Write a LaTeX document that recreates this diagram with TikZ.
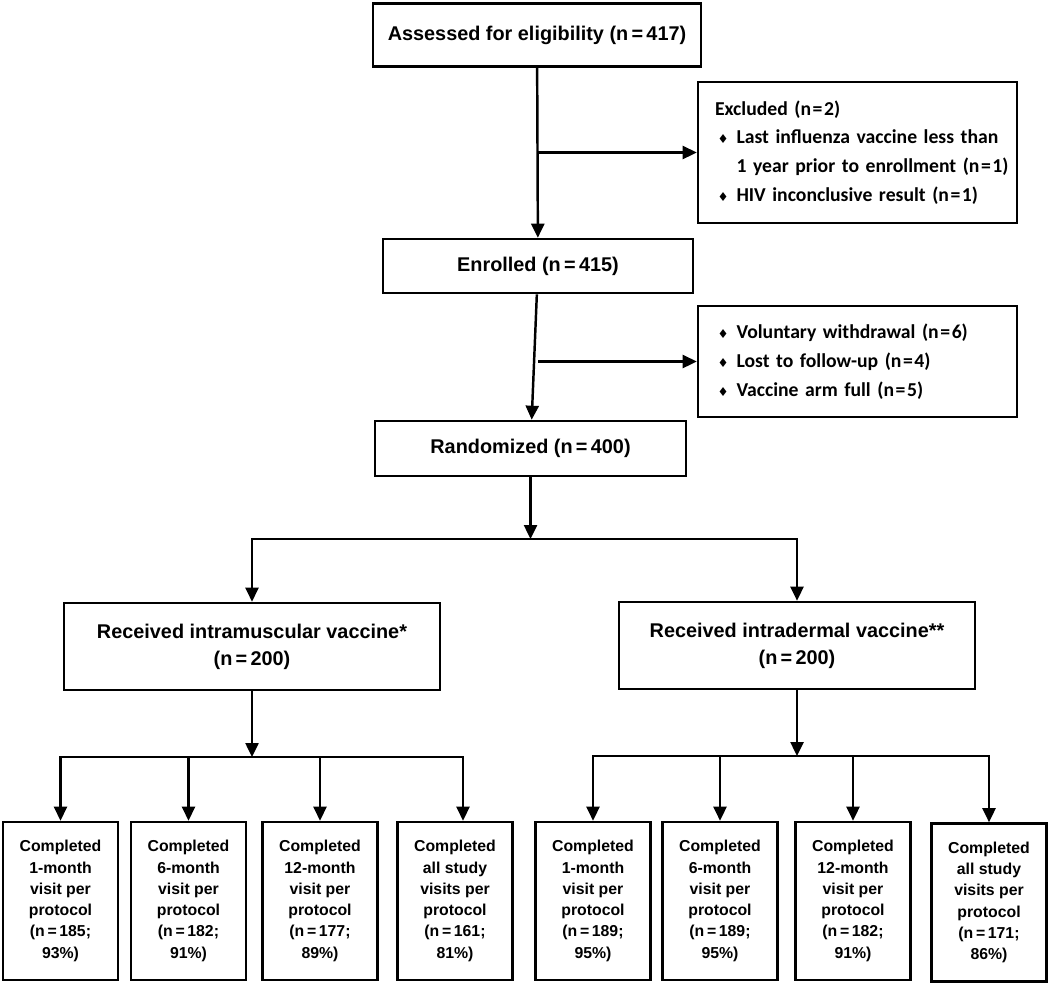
\documentclass[tikz,border=0pt]{standalone}
\usepackage{fontspec}
\setmainfont{Liberation Sans}
\newfontfamily\calfont{Carlito}
\newfontfamily\symfont{DejaVu Sans}
\usepackage{tikz}
\usetikzlibrary{arrows.meta, positioning, calc}

\newcommand{\bul}{\hspace*{0.3cm}\makebox[0.38cm][l]{\symfont\fontsize{7}{7}\selectfont ♦}}
\newcommand{\eq}{\kern0.08em=\kern0.08em}

\begin{document}
\begin{tikzpicture}[x=0.02cm, y=-0.02cm,
    stage/.style={rectangle, draw, line width=1.5pt, align=center, font=\fontsize{11.3}{15.3}\selectfont\bfseries},
    excl/.style={rectangle, draw, line width=1.5pt, text width=6.2cm, inner xsep=0.09cm, align=left, font=\fontsize{11.2}{16.4}\calfont\bfseries},
    visitbox/.style={rectangle, draw, line width=1.5pt, minimum width=2.3cm, minimum height=3.16cm, inner sep=0pt, align=center, font=\fontsize{9}{12.1}\selectfont\bfseries},
    arr/.style={line width=1.4pt, -{Triangle[length=0.28cm, width=0.26cm]}}
]
    \useasboundingbox (0,0) rectangle (1050,984);

    % enrolment
    \node[stage, minimum width=6.56cm, minimum height=1.26cm] (assessed) at (537,35) {Assessed for eligibility (n\,=\,417)};
    \node[excl, minimum height=2.82cm] (excluded) at (857.5,152.5) {\hspace*{0.25cm}Excluded (n\eq2)\\
        \bul Last influenza vaccine less than\\
        \hspace*{0.68cm}1 year prior to enrollment (n\eq1)\\
        \bul HIV inconclusive result (n\eq1)};
    \node[stage, minimum width=6.2cm, minimum height=1.08cm] (enrolled) at (538,266) {Enrolled (n\,=\,415)};
    \node[excl, minimum height=2.22cm] (dropped) at (857.5,361.5) {\bul Voluntary withdrawal (n\eq6)\\
        \bul Lost to follow-up (n\eq4)\\
        \bul Vaccine arm full (n\eq5)};
    \node[stage, minimum width=6.22cm, minimum height=1.1cm] (randomized) at (530.5,448.5) {Randomized (n\,=\,400)};

    \draw[arr] (assessed) -- (enrolled);
    \draw[arr] (assessed.south |- excluded.west) -- (excluded.west);
    \draw[arr] (enrolled) -- (randomized);
    \draw[arr] (enrolled.south |- dropped.west) -- (dropped.west);

    % allocation
    \node[stage, minimum width=7.52cm, minimum height=1.74cm] (im) at (252,646.5) {Received intramuscular vaccine*\\(n\,=\,200)};
    \node[stage, minimum width=7.12cm, minimum height=1.74cm] (id) at (797,645.5) {Received intradermal vaccine**\\(n\,=\,200)};

    \coordinate (rsplit) at (530.5,539);
    \draw[arr] (randomized) -- (rsplit);
    \draw[arr] (rsplit) -| (im);
    \draw[arr] (rsplit) -| (id);

    % follow-up, intramuscular
    \node[visitbox] (im1) at (60.5,901) {Completed\\1-month\\visit per\\protocol\\(n\,=\,185;\\93\%)};
    \node[visitbox] (im6) at (188.5,901) {Completed\\6-month\\visit per\\protocol\\(n\,=\,182;\\91\%)};
    \node[visitbox] (im12) at (320,901) {Completed\\12-month\\visit per\\protocol\\(n\,=\,177;\\89\%)};
    \node[visitbox] (imall) at (455,901) {Completed\\all study\\visits per\\protocol\\(n\,=\,161;\\81\%)};

    \coordinate (imsplit) at (252,757);
    \draw[arr] (im) -- (imsplit);
    \draw[arr] (imsplit) -| (im1);
    \draw[arr] (imsplit) -| (im6);
    \draw[arr] (imsplit) -| (im12);
    \draw[arr] (imsplit) -| ([xshift=0.16cm]imall.north);

    % follow-up, intradermal
    \node[visitbox] (id1) at (593,901) {Completed\\1-month\\visit per\\protocol\\(n\,=\,189;\\95\%)};
    \node[visitbox] (id6) at (720,901) {Completed\\6-month\\visit per\\protocol\\(n\,=\,189;\\95\%)};
    \node[visitbox] (id12) at (853,901) {Completed\\12-month\\visit per\\protocol\\(n\,=\,182;\\91\%)};
    \node[visitbox] (idall) at (989,902.5) {Completed\\all study\\visits per\\protocol\\(n\,=\,171;\\86\%)};

    \coordinate (idsplit) at (797,756);
    \draw[arr] (id) -- (idsplit);
    \draw[arr] (idsplit) -| (id1);
    \draw[arr] (idsplit) -| (id6);
    \draw[arr] (idsplit) -| (id12);
    \draw[arr] (idsplit) -| (idall);
\end{tikzpicture}
\end{document}
